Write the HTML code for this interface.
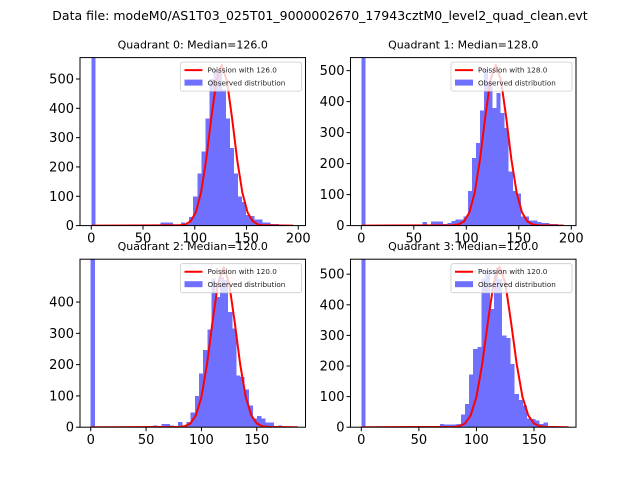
<!DOCTYPE html>
<html><head><meta charset="utf-8"><style>
html,body{margin:0;padding:0;background:#fff;}
svg{display:block;font-family:"DejaVu Sans","Liberation Sans",sans-serif;}
</style></head><body>
<svg id="chart" width="640" height="480" viewBox="0 0 640 480" xmlns="http://www.w3.org/2000/svg">
<rect width="640" height="480" fill="#fff"/>
<text x="320" y="20" text-anchor="middle" font-size="12.5">Data file: modeM0/AS1T03_025T01_9000002670_17943cztM0_level2_quad_clean.evt</text>
</svg>
<script>
// ---- data ----
const quadrantNames = ["Quadrant 0: Median=126.0","Quadrant 1: Median=128.0","Quadrant 2: Median=120.0","Quadrant 3: Median=120.0"];
const poissonLabels = ["Poission with 126.0","Poission with 128.0","Poission with 120.0","Poission with 120.0"];
const binWidths = [3.94, 3.9, 3.76, 3.6];
const counts0 = [5000,0,0,0,0,0,0,0,0,0,0,0,0,0,0,0,0,10,10,10,3,3,10,5,30,100,177,253,366,500,530,520,465,366,264,177,100,80,37,32,20,20,11,11,5,5,3,3,0,0];
const counts1 = [5000,0,0,0,0,0,0,0,0,0,0,0,0,0,0,11,0,13,13,13,5,8,15,20,20,30,111,218,267,371,503,465,380,428,363,315,175,111,103,30,30,17,17,11,8,8,5,5,4,0];
const counts2 = [5000,0,0,0,0,0,0,0,0,0,0,0,0,0,0,5,0,10,10,5,0,16,3,17,47,100,171,246,313,475,416,480,470,368,315,166,161,120,70,28,36,28,15,15,3,6,0,0,0,0];
const counts3 = [5000,0,0,0,0,0,0,0,0,0,0,0,0,0,0,0,0,0,0,11,9,9,9,11,41,76,172,256,262,485,512,387,512,485,300,292,207,109,89,71,29,27,22,11,16,3,0,0,0,0];
const curveX0 = [0,85,91,96,101,106,111,116,121,126,131,136,141,146,151,156,161,166,195];
const curveY0 = [0,1,4,15,45,112,224,368,496,548,496,368,224,112,45,15,4,1,0];
const curveX1 = [0,87,93,98,103,108,113,118,123,128,133,138,143,148,153,158,163,168,193];
const curveY1 = [0,1,4,14,43,106,212,349,470,519,470,349,212,106,43,14,4,1,0];
const curveX2 = [0,80,85,90,95,100,105,110,115,120,125,130,135,140,145,150,155,160,187];
const curveY2 = [0,1,3,12,38,97,201,337,461,512,461,337,201,97,38,12,3,1,0];
const curveX3 = [0,80,85,90,95,100,105,110,115,120,125,130,135,140,145,150,155,160,180];
const curveY3 = [0,1,3,12,39,99,206,345,473,525,473,345,206,99,39,12,3,1,0];
const xTicks = [[0,50,100,150,200],[0,50,100,150,200],[0,50,100,150],[0,50,100,150]];
const yTicks = [[0,100,200,300,400,500],[0,100,200,300,400,500],[0,100,200,300,400],[0,100,200,300,400,500]];
const xDomains = [[-10.9,207],[-10.3,204.5],[-9.7,194],[-9.4,186.5]];
const yDomains = [[0,573],[0,542],[0,537],[0,549]];
// ---- layout ----
const boxes = [[80,57.6,225.5,168],[350.5,57.6,225.5,168],[80,259.2,225.5,168],[350.5,259.2,225.5,168]];
const allCounts=[counts0,counts1,counts2,counts3];
const allCX=[curveX0,curveX1,curveX2,curveX3];
const allCY=[curveY0,curveY1,curveY2,curveY3];
const svg=document.getElementById('chart');
const NS='http://www.w3.org/2000/svg';
function mk(tag,attrs,parent){const e=document.createElementNS(NS,tag);for(const k in attrs)e.setAttribute(k,attrs[k]);(parent||svg).appendChild(e);return e;}
for(let q=0;q<4;q++){
  const [bx,by,bw,bh]=boxes[q];
  const [x0,x1]=xDomains[q],[y0,y1]=yDomains[q];
  const sx=v=>bx+(v-x0)/(x1-x0)*bw;
  const sy=v=>by+bh-(v-y0)/(y1-y0)*bh;
  const g=mk('g',{});
  
  
  const cp=mk('clipPath',{id:'cp'+q},g);mk('rect',{x:bx,y:by,width:bw,height:bh},cp);
  const t=mk('text',{x:bx+bw/2,y:by-9,'text-anchor':'middle','font-size':'11'},g);
  
  
  t.textContent=quadrantNames[q];
  const plot=mk('g',{'clip-path':'url(#cp'+q+')'},g);
  const c=allCounts[q],w=binWidths[q];
  for(let i=0;i<c.length;i++){
    if(!c[i])continue;
    const xa=sx(i*w),xb=sx((i+1)*w),ya=sy(c[i]),yb=sy(0);
    const r=mk('rect',{x:xa,y:ya,width:xb-xa,height:yb-ya,fill:'#7070ff','shape-rendering':'crispEdges'},plot);
    
    
  }
  const cx=allCX[q],cy=allCY[q];
  let d='';for(let i=0;i<cx.length;i++)d+=(i?'L':'M')+sx(cx[i]).toFixed(2)+','+sy(cy[i]).toFixed(2);
  const p=mk('path',{d:d,fill:'none',stroke:'#ff0000','stroke-width':'2','stroke-linejoin':'round'},plot);
  
  
  const fr=mk('rect',{x:bx,y:by,width:bw,height:bh,fill:'none',stroke:'#000','stroke-width':'1'},g);
  
  
  xTicks[q].forEach(v=>{
    const X=sx(v);mk('line',{x1:X,x2:X,y1:by+bh,y2:by+bh+4,stroke:'#000'},g);
    const tl=mk('text',{x:X,y:by+bh+17,'text-anchor':'middle','font-size':'13'},g);
    
    
    tl.textContent=v;
  });
  yTicks[q].forEach(v=>{
    const Y=sy(v);mk('line',{x1:bx-4,x2:bx,y1:Y,y2:Y,stroke:'#000'},g);
    const tl=mk('text',{x:bx-6,y:Y+4.5,'text-anchor':'end','font-size':'13'},g);
    
    
    tl.textContent=v;
  });
  const lg=mk('g',{},g);
  
  
  const lx=bx+bw-125,ly=by+4.5;
  mk('rect',{x:lx,y:ly,width:121,height:29,fill:'#fff','fill-opacity':'0.8',stroke:'#ccc','stroke-width':'0.8',rx:2},lg);
  mk('line',{x1:lx+4,x2:lx+22,y1:ly+8,y2:ly+8,stroke:'#ff0000','stroke-width':'2'},lg);
  mk('rect',{x:lx+4,y:ly+17.5,width:18,height:6,fill:'#7070ff'},lg);
  const t1=mk('text',{x:lx+27,y:ly+10.5,'font-size':'7.2','fill':'#222'},lg);
  
  
  t1.textContent=poissonLabels[q];
  const t2=mk('text',{x:lx+27,y:ly+23.5,'font-size':'7.2','fill':'#222'},lg);
  
  
  t2.textContent='Observed distribution';
}
</script>
</body></html>
